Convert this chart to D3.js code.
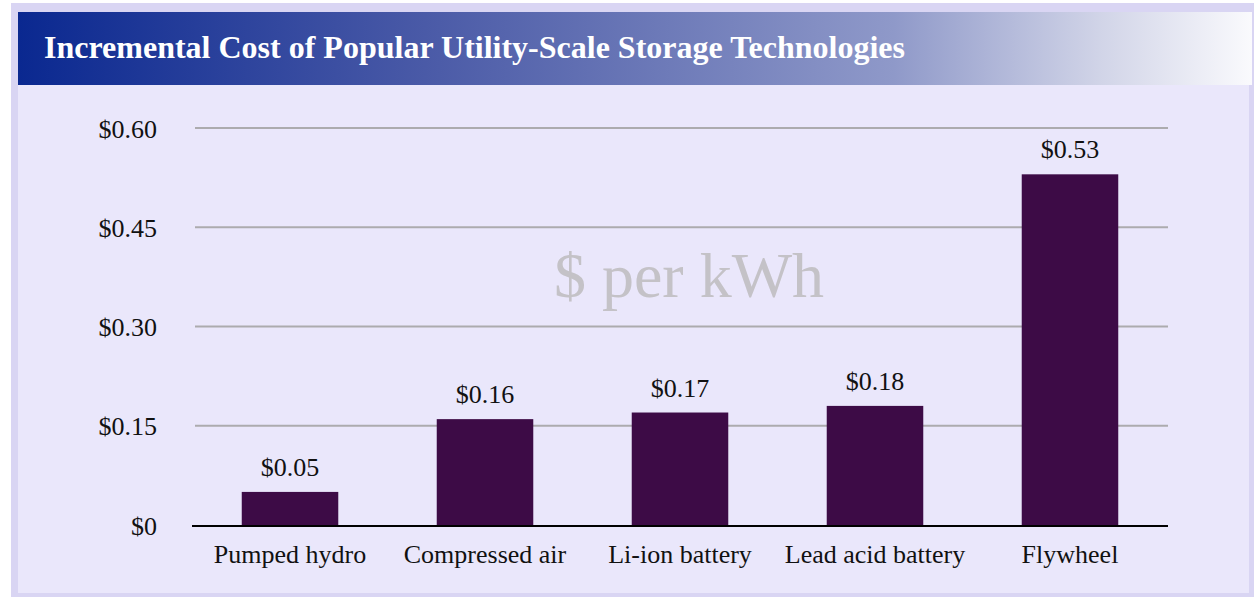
<!DOCTYPE html>
<html>
<head>
<meta charset="utf-8">
<script src="https://cdn.jsdelivr.net/npm/d3@7"></script>
<style>
  body { margin: 0; background: #fff; }
  text { font-family: "Liberation Serif", "Times New Roman", serif; }
</style>
</head>
<body>
<svg id="chart" width="1254" height="598"></svg>
<script>
var categories = ["Pumped hydro", "Compressed air", "Li-ion battery", "Lead acid battery", "Flywheel"];
var costs = [0.05, 0.16, 0.17, 0.18, 0.53];
var tickValues = [0, 0.15, 0.30, 0.45, 0.60];
var tickLabels = ["$0", "$0.15", "$0.30", "$0.45", "$0.60"];
var valueLabels = ["$0.05", "$0.16", "$0.17", "$0.18", "$0.53"];

var svg = d3.select("#chart");

// frame
svg.append("rect").attr("x", 11).attr("y", 3).attr("width", 1243).attr("height", 594).attr("fill", "#d9d5f3");
svg.append("rect").attr("x", 18).attr("y", 12).attr("width", 1231).attr("height", 581).attr("fill", "#eae7fb");

// title bar gradient
var grad = svg.append("defs").append("linearGradient").attr("id", "tg");
grad.append("stop").attr("offset", "0%").attr("stop-color", "#0a2890");
grad.append("stop").attr("offset", "33%").attr("stop-color", "#4a5aa7");
grad.append("stop").attr("offset", "71%").attr("stop-color", "#8f99c9");
grad.append("stop").attr("offset", "88%").attr("stop-color", "#d2d5e8");
grad.append("stop").attr("offset", "100%").attr("stop-color", "#fafafd");
svg.append("rect").attr("x", 18).attr("y", 12).attr("width", 1234).attr("height", 73).attr("fill", "url(#tg)");
svg.append("text").attr("x", 44).attr("y", 58)
  .attr("fill", "#fff").attr("font-weight", "bold").attr("font-size", 32)
  .text("Incremental Cost of Popular Utility-Scale Storage Technologies");

var x = d3.scaleBand().domain(categories).range([193, 1167]).paddingInner(0.505).paddingOuter(0.25);
var y = d3.scaleLinear().domain([0, 0.6]).range([525, 128]);

// gridlines
svg.append("g").selectAll("line").data(tickValues.slice(1)).enter().append("line")
  .attr("x1", 195).attr("x2", 1168)
  .attr("y1", function (d) { return y(d); }).attr("y2", function (d) { return y(d); })
  .attr("stroke", "#acabae").attr("stroke-width", 2);

// watermark
svg.append("text").attr("x", 689).attr("y", 297).attr("text-anchor", "middle")
  .attr("font-size", 64).attr("fill", "#c4c2c7").text("$ per kWh");

// y axis labels
var yAxis = d3.axisLeft(y).tickValues(tickValues).tickSize(0).tickPadding(0)
  .tickFormat(function (d, i) { return tickLabels[i]; });
var ya = svg.append("g").attr("transform", "translate(157,0)").call(yAxis);
ya.select(".domain").remove();
ya.selectAll("text").attr("font-size", 26).attr("fill", "#111")
  .attr("font-family", "Liberation Serif, serif").attr("dy", "0.35em");

// bars
svg.append("g").selectAll("rect").data(costs).enter().append("rect")
  .attr("x", function (d, i) { return x(categories[i]); })
  .attr("width", x.bandwidth())
  .attr("y", function (d) { return y(d); })
  .attr("height", function (d) { return y(0) - y(d); })
  .attr("fill", "#3d0b46");

// value labels
svg.append("g").selectAll("text").data(costs).enter().append("text")
  .attr("x", function (d, i) { return x(categories[i]) + x.bandwidth() / 2; })
  .attr("y", function (d) { return y(d) - 16; })
  .attr("text-anchor", "middle").attr("font-size", 26).attr("fill", "#111")
  .text(function (d, i) { return valueLabels[i]; });

// baseline
svg.append("line").attr("x1", 192).attr("x2", 1168).attr("y1", y(0) + 1).attr("y2", y(0) + 1)
  .attr("stroke", "#000").attr("stroke-width", 2);

// x axis labels
var xAxis = d3.axisBottom(x).tickSize(0).tickPadding(0);
var xa = svg.append("g").attr("transform", "translate(0,563)").call(xAxis);
xa.select(".domain").remove();
xa.selectAll("text").attr("font-size", 26).attr("fill", "#111")
  .attr("font-family", "Liberation Serif, serif").attr("dy", "0");
</script>
</body>
</html>
